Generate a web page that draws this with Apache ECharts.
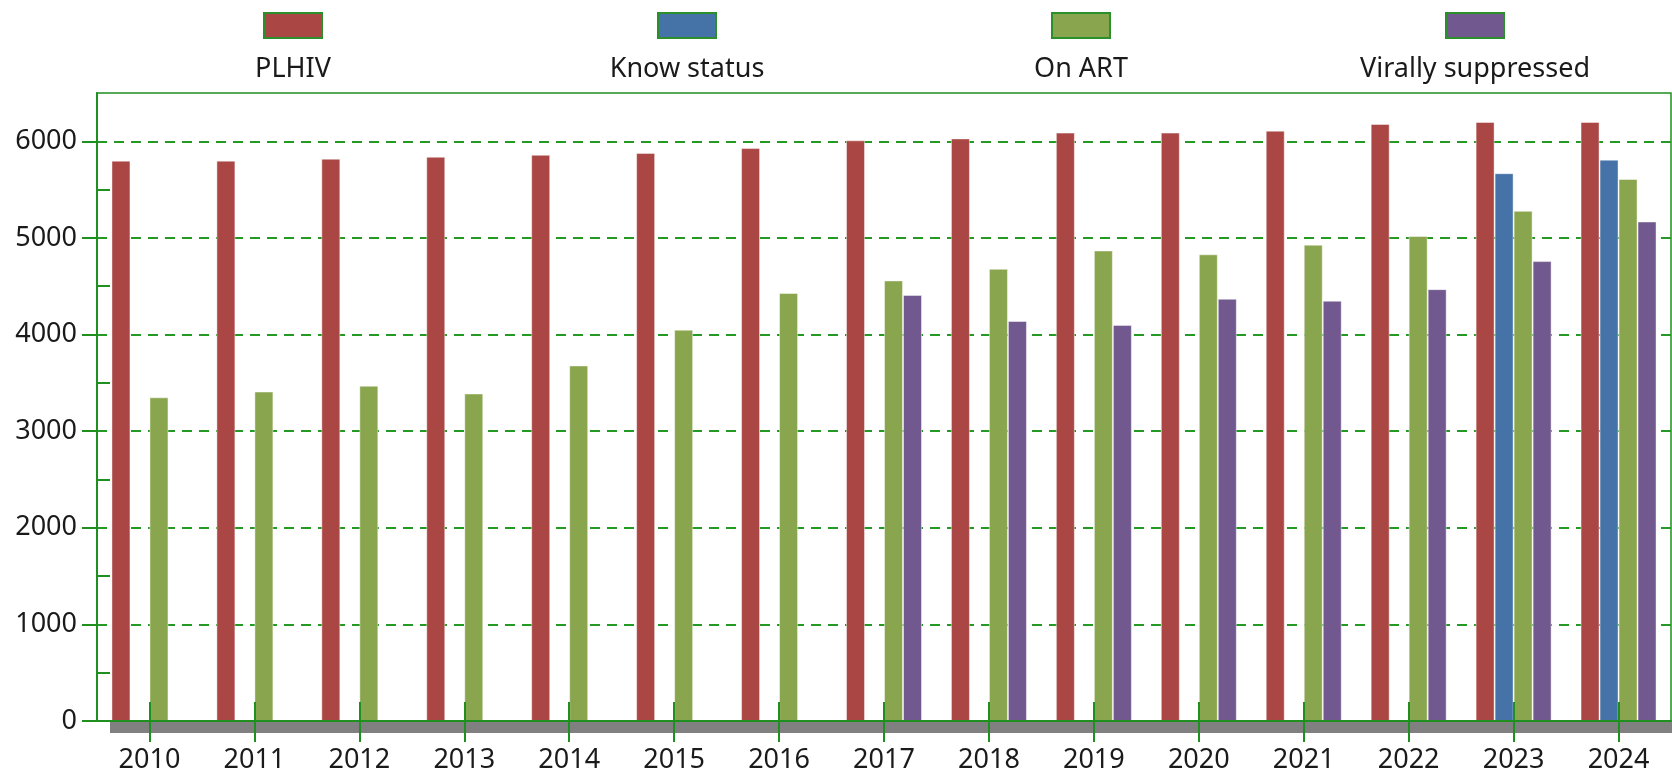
<!DOCTYPE html>
<html>
<head>
<meta charset="utf-8">
<title>HIV cascade 2010–2024</title>
<script src="https://cdn.jsdelivr.net/npm/echarts@6/dist/echarts.min.js"></script>
<style>
  html, body { margin: 0; padding: 0; background: #ffffff; }
  #chart { width: 1672px; height: 777px; }
</style>
</head>
<body>
<div id="chart"></div>
<script>
// Categories and series values
const years = ['2010', '2011', '2012', '2013', '2014', '2015', '2016', '2017', '2018', '2019', '2020', '2021', '2022', '2023', '2024'];
const seriesNames = ['PLHIV', 'Know status', 'On ART', 'Virally suppressed'];
const plhiv = [5800, 5800, 5820, 5840, 5860, 5880, 5930, 6010, 6030, 6090, 6090, 6110, 6180, 6200, 6200];
const knowStatus = [null, null, null, null, null, null, null, null, null, null, null, null, null, 5670, 5810];
const onArt = [3350, 3410, 3470, 3390, 3680, 4050, 4430, 4560, 4680, 4870, 4830, 4930, 5020, 5280, 5610];
const virallySuppressed = [null, null, null, null, null, null, null, 4410, 4140, 4100, 4370, 4350, 4470, 4760, 5170];

// Value-axis tick values
const yTicks = [0, 1000, 2000, 3000, 4000, 5000, 6000];
const yMinorTicks = [500, 1500, 2500, 3500, 4500, 5500];

const colors = ['#AA4643', '#4572A7', '#89A54E', '#71588F'];
const green = '#1f8f1f';
const gridGreen = '#249a24';
const textColor = '#1a1a1a';
const fontFamily = '"Noto Sans", "Open Sans", sans-serif';
const fontSize = 27;

const chart = echarts.init(document.getElementById('chart'), null, { renderer: 'canvas' });

const values = [plhiv, knowStatus, onArt, virallySuppressed];

// Legend: a swatch above each name
const decorations = [];
seriesNames.forEach(function (name, i) {
  const cx = 293 + 394 * i;
  decorations.push({
    type: 'rect',
    shape: { x: cx - 29, y: 13, width: 58, height: 25 },
    style: { fill: colors[i], stroke: '#2b8f2b', lineWidth: 2 },
    z: 10
  });
  decorations.push({
    type: 'text',
    x: cx,
    y: 69,
    style: {
      text: name,
      fill: textColor,
      font: fontSize + 'px ' + fontFamily,
      textAlign: 'center',
      textVerticalAlign: 'middle'
    },
    z: 10
  });
});

// Grey floor strip below the category axis
decorations.push({
  type: 'rect',
  shape: { x: 110, y: 722, width: 1562, height: 11 },
  style: { fill: '#808080' },
  z: 1
});

const option = {
  animation: false,
  backgroundColor: '#ffffff',
  textStyle: { fontFamily: fontFamily },
  grid: {
    left: 97,
    right: 1,
    top: 93,
    bottom: 56,
    show: true,
    borderColor: green,
    borderWidth: 1.5,
    backgroundColor: 'transparent'
  },
  xAxis: [
    {
      type: 'category',
      data: years,
      position: 'bottom',
      z: 5,
      axisLine: { show: true, lineStyle: { color: green, width: 2 } },
      axisTick: { show: true, alignWithLabel: true, length: 21, lineStyle: { color: green, width: 2 } },
      axisLabel: { color: textColor, fontSize: fontSize, margin: 26, fontFamily: fontFamily },
      splitLine: { show: false }
    },
    {
      type: 'category',
      data: years,
      position: 'bottom',
      z: 5,
      axisLine: { show: false },
      axisTick: { show: true, inside: true, alignWithLabel: true, length: 19, lineStyle: { color: green, width: 2 } },
      axisLabel: { show: false },
      splitLine: { show: false }
    }
  ],
  yAxis: [
    {
      type: 'value',
      min: 0,
      max: 6500,
      interval: 1000,
      position: 'left',
      axisLine: { show: true, lineStyle: { color: green, width: 2 } },
      axisTick: { show: true, length: 15, customValues: yTicks, lineStyle: { color: green, width: 2 } },
      axisLabel: {
        color: textColor,
        fontSize: fontSize,
        margin: 20,
        fontFamily: fontFamily,
        customValues: yTicks,
        formatter: function (v) { return String(v); }
      },
      splitLine: { show: true, lineStyle: { color: gridGreen, width: 2, type: [10, 7] } }
    },
    {
      type: 'value',
      min: 0,
      max: 6500,
      interval: 500,
      position: 'left',
      axisLine: { show: false },
      axisTick: { show: true, inside: true, length: 13, customValues: yMinorTicks, lineStyle: { color: green, width: 2 } },
      axisLabel: { show: false },
      splitLine: { show: false }
    }
  ],
  graphic: { elements: decorations },
  series: seriesNames.map(function (name, i) {
    return {
      name: name,
      type: 'bar',
      xAxisIndex: 0,
      yAxisIndex: 0,
      data: values[i],
      barWidth: 19,
      barGap: '0%',
      itemStyle: {
        color: colors[i],
        borderColor: 'rgba(255,255,255,0.45)',
        borderWidth: 1
      },
      emphasis: { disabled: true }
    };
  })
};

chart.setOption(option);
</script>
</body>
</html>
